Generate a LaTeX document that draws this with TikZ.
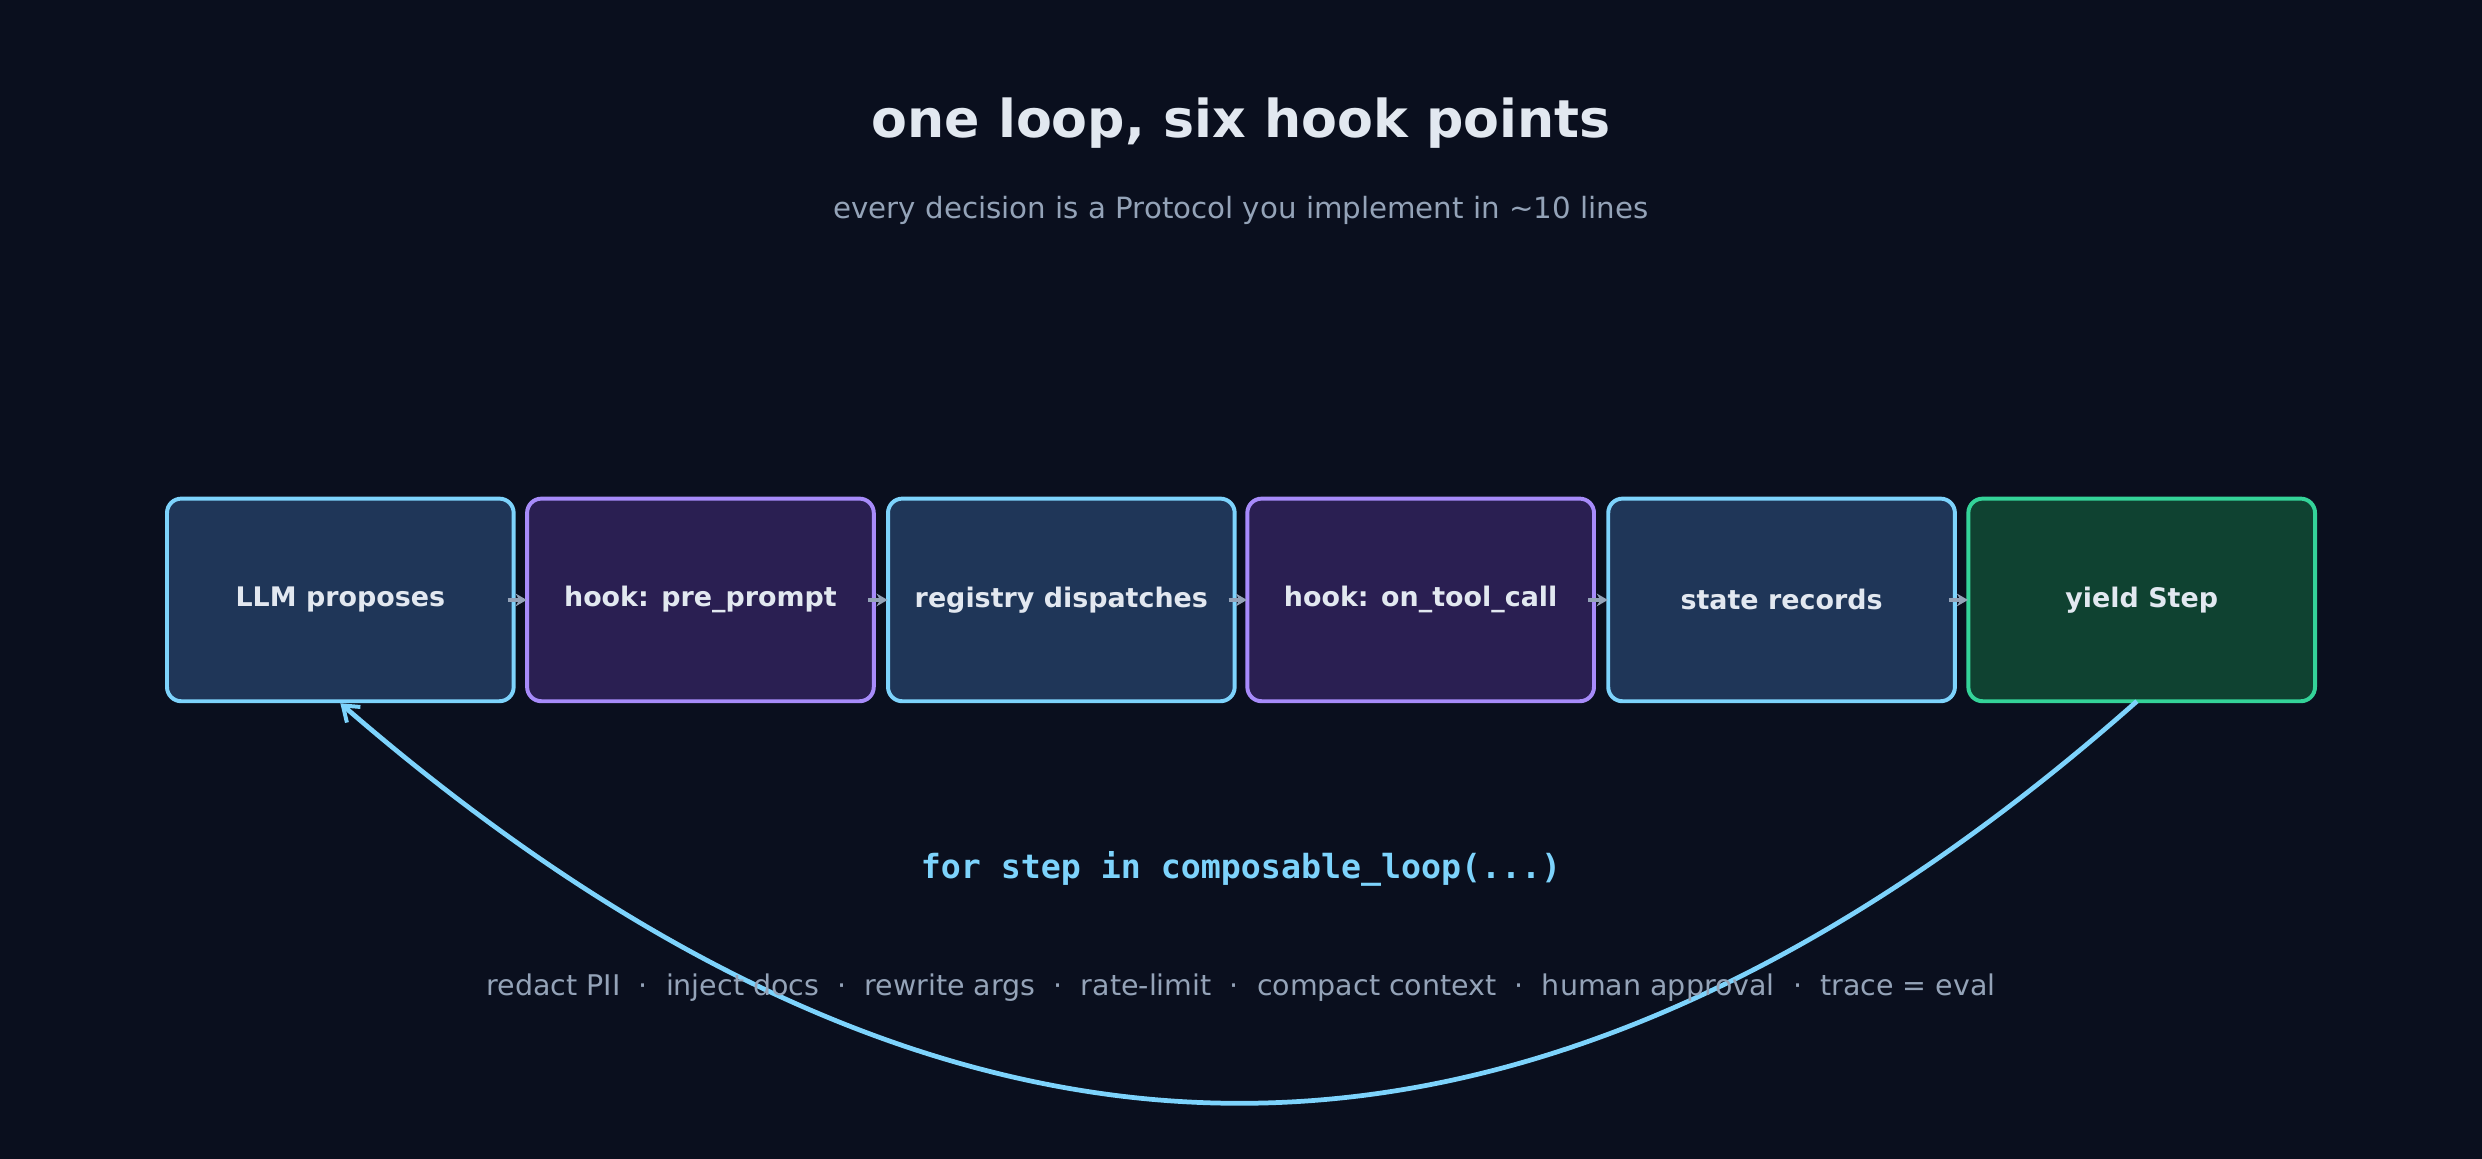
\documentclass[tikz,border=0pt]{standalone}
\usepackage{fontspec}
\setmainfont{DejaVu Sans}
\setmonofont{DejaVu Sans Mono}
\usetikzlibrary{arrows.meta}
\definecolor{bg}{HTML}{0A0F1E}
\definecolor{bfill}{HTML}{1F3658}
\definecolor{bline}{HTML}{7DD3FC}
\definecolor{pfill}{HTML}{2A1F52}
\definecolor{pline}{HTML}{A78BFA}
\definecolor{gfill}{HTML}{0F4231}
\definecolor{gline}{HTML}{34D399}
\definecolor{txt}{HTML}{E2E8F0}
\definecolor{mute}{HTML}{94A3B8}
\tikzset{
 box/.style={draw, line width=2.5pt, rounded corners=9pt, minimum width=219pt, minimum height=128pt, font=\fontsize{17}{20}\selectfont\bfseries, text=txt, inner sep=0pt},
 bb/.style={box, fill=bfill, draw=bline},
 pb/.style={box, fill=pfill, draw=pline},
 gb/.style={box, fill=gfill, draw=gline},
 sa/.style={draw=mute, line width=2.5pt, -{Stealth[length=7pt,width=8pt]}},
}
\begin{document}
\begin{tikzpicture}[x=1pt,y=-1pt]
\fill[bg] (0,0) rectangle (1568,732);
\useasboundingbox (0,0) rectangle (1568,732);
\node[text=txt, font=\fontsize{33}{38}\selectfont\bfseries] (title) at (784,78) {one loop, six hook points};
\node[text=mute, font=\fontsize{18.5}{22}\selectfont] (sub) at (784,133) {every decision is a Protocol you implement in \textasciitilde 10 lines};
\node[bb] (a) at (215,379) {LLM proposes};
\node[pb] (b) at (442.5,379) {hook: pre\_prompt};
\node[bb] (c) at (670.5,379) {registry dispatches};
\node[pb] (d) at (897.5,379) {hook: on\_tool\_call};
\node[bb] (e) at (1125.5,379) {state records};
\node[gb] (f) at (1353,379) {yield Step};
\foreach \u/\v in {a/b,b/c,c/d,d/e,e/f} \draw[sa] ([xshift=-5pt]\u.east) -- ([xshift=1pt]\v.west);
\coordinate (bot) at (783,697);
\draw[bline, line width=3pt, -{Straight Barb[length=9pt,width=13pt,line width=2.5pt]}] (1350,443) .. controls (1150,620) and (960,697) .. (bot) .. controls (606,697) and (418,620) .. (a.south);
\node[text=bline, font=\fontsize{21}{25}\selectfont\ttfamily\bfseries] (code) at (784,549) {for step in composable\_loop(...)};
\node[text=mute, font=\fontsize{18}{22}\selectfont] (foot) at (784,624) {redact PII\ \ ·\ \ inject docs\ \ ·\ \ rewrite args\ \ ·\ \ rate-limit\ \ ·\ \ compact context\ \ ·\ \ human approval\ \ ·\ \ trace = eval};
\end{tikzpicture}
\end{document}
